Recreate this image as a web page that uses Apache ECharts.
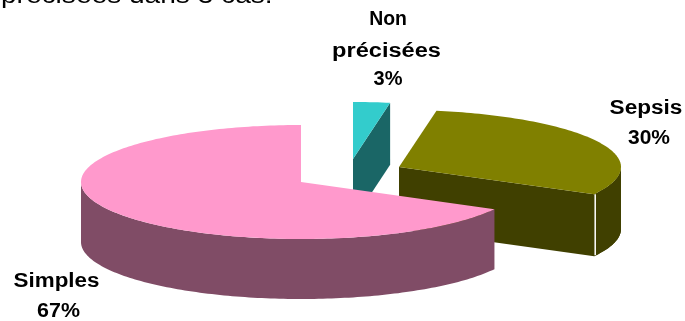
<!DOCTYPE html>
<html><head><meta charset="utf-8">
<style>html,body{margin:0;padding:0;background:#fff}#c{width:685px;height:321px}</style>
<script src="https://cdn.jsdelivr.net/npm/echarts@6/dist/echarts.min.js"></script>
</head><body><div id="c"></div>
<script>
const categories = ['Non précisées', 'Sepsis', 'Simples'];
const labelLines = [['Non', 'précisées', '3%'], ['Sepsis', '30%'], ['Simples', '67%']];
const values = [2.7, 30.2, 67.1];
const topColors = ['#33CCCC', '#808000', '#FF99CC'];
const wallColors = ['#1A6666', '#404000', '#804C66'];
const explodeX = [52, 98, 0];
const explodeY = [-23, -15, 0];
const radiusX = [220, 222, 220];
const depths = [62, 62, 60];
const labelX = [[388, 386.5, 388], [646, 649], [56.5, 58.5]];
const labelY = [[19, 51, 79], [108, 138], [281, 311]];
const labelStretch = [[0.97, 1.18, 1], [1.13, 1.05], [1.12, 1.07]];
const captionText = 'précisées dans 3 cas.';

const CX = 301, CY = 182, RY = 57;
const total = values.reduce((a, b) => a + b, 0);
const slices = [];
values.reduce((acc, v, i) => {
  slices.push({ a0: acc / total * 2 * Math.PI, a1: (acc + v) / total * 2 * Math.PI, i });
  return acc + v;
}, 0);

function pt(s, a, dz) {
  return [CX + explodeX[s.i] + radiusX[s.i] * Math.sin(a), CY + explodeY[s.i] - RY * Math.cos(a) + (dz || 0)];
}
function arc(s, a0, a1, dz) {
  const n = Math.max(2, Math.ceil(Math.abs(a1 - a0) / 0.02)), out = [];
  for (let k = 0; k <= n; k++) out.push(pt(s, a0 + (a1 - a0) * k / n, dz));
  return out;
}
function renderItem(params, api) {
  const s = slices[params.dataIndex];
  const depth = depths[s.i];
  const apex = [CX + explodeX[s.i], CY + explodeY[s.i]];
  const apexLow = [apex[0], apex[1] + depth];
  const kids = [];
  const wall = (points, fill) => kids.push({ type: 'polygon', shape: { points }, style: { fill } });
  const fill = wallColors[s.i];
  const e = pt(s, s.a1);
  // radial face at the clockwise end of the slice, visible on the two exploded slices
  if (s.i < 2) {
    wall([apex, e, [e[0], e[1] + depth], apexLow], fill);
  }
  // outer wall: the part of the arc on the near half of the ellipse
  const lo = Math.max(s.a0, Math.PI / 2), hi = Math.min(s.a1, 3 * Math.PI / 2);
  if (hi > lo) {
    wall(arc(s, lo, hi, 0).concat(arc(s, hi, lo, depth)), fill);
  }
  if (s.i === 1) {
    wall(arc(s, Math.PI / 2, s.a1).concat(arc(s, s.a1, Math.PI / 2, depth)), fill);
  }
  kids.push({ type: 'polygon', shape: { points: [apex].concat(arc(s, s.a0, s.a1)) }, style: { fill: topColors[s.i] } });
  if (s.i === 1) {
    kids.push({ type: 'line', shape: { x1: e[0] + 1, y1: e[1], x2: e[0] + 1, y2: e[1] + depth - 1 }, style: { stroke: '#FFFFFF', lineWidth: 1.5 } });
  }
  return { type: 'group', children: kids };
}
function renderLabel(params) {
  const i = params.dataIndex;
  return {
    type: 'group',
    children: labelLines[i].map((t, j) => ({
      type: 'text',
      x: labelX[i][j], y: labelY[i][j], scaleX: labelStretch[i][j],
      style: { text: t, x: 0, y: 0, align: 'center', verticalAlign: 'middle', fill: '#000', font: 'bold 20px "Liberation Sans", Arial, sans-serif' }
    }))
  };
}
const chart = echarts.init(document.getElementById('c'), null, { renderer: 'canvas', width: 685, height: 321 });
chart.setOption({
  animation: false,
  backgroundColor: '#FFFFFF',
  graphic: [{ type: 'text', x: 1, y: -16, scaleX: 1.17, style: { text: captionText, fill: '#000', font: '24px "Liberation Sans", Arial, sans-serif' } }],
  series: [
    { type: 'custom', coordinateSystem: 'none', renderItem, data: categories.map((n, i) => ({ name: n, value: values[i] })), silent: true },
    { type: 'custom', coordinateSystem: 'none', renderItem: renderLabel, data: categories.map((n, i) => ({ name: n, value: values[i] })), silent: true, z: 5 }
  ]
});
</script></body></html>
